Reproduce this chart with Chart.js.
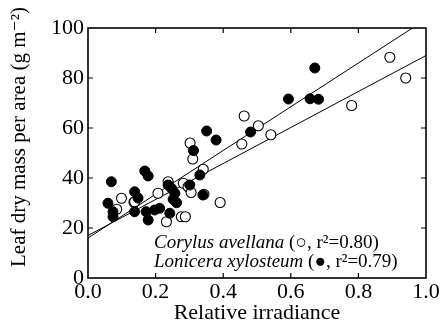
<!DOCTYPE html>
<html>
<head>
<meta charset="utf-8">
<script src="https://cdn.jsdelivr.net/npm/chart.js@4.4.0/dist/chart.umd.min.js"></script>
<style>
    html, body { margin: 0; padding: 0; background: #fff; }
</style>
</head>
<body>
<canvas id="leafChart" width="441" height="334"></canvas>
<script>
/* =========================
   DATA
========================= */

const xTicks = [0, 0.2, 0.4, 0.6, 0.8, 1.0];
const yTicks = [0, 20, 40, 60, 80, 100];

// Corylus avellana (open circles)
const corylusX = [0.085, 0.099, 0.136, 0.138, 0.207, 0.237, 0.232, 0.276, 0.288, 0.282,
                  0.296, 0.305, 0.302, 0.310, 0.341, 0.343, 0.391, 0.455, 0.462, 0.504,
                  0.541, 0.780, 0.893, 0.940];
const corylusY = [27.5, 31.9, 30.3, 30.5, 33.9, 38.5, 22.5, 24.5, 24.5, 37.9,
                  36.5, 34.2, 54.0, 47.6, 43.5, 33.5, 30.2, 53.6, 64.8, 60.9,
                  57.3, 69.0, 88.3, 80.0];

// Lonicera xylosteum (filled circles)
const loniceraX = [0.059, 0.069, 0.074, 0.074, 0.138, 0.148, 0.138, 0.168, 0.178, 0.172,
                   0.178, 0.197, 0.212, 0.237, 0.247, 0.257, 0.252, 0.262, 0.242, 0.301,
                   0.312, 0.331, 0.340, 0.351, 0.379, 0.481, 0.593, 0.657, 0.682, 0.671];
const loniceraY = [29.9, 38.5, 26.5, 24.5, 34.5, 32.0, 26.5, 42.8, 40.8, 26.5,
                   23.2, 27.2, 27.9, 37.2, 35.9, 33.9, 31.5, 30.1, 25.9, 37.2,
                   51.0, 41.2, 33.2, 58.8, 55.2, 58.4, 71.6, 71.7, 71.5, 84.0];

// linear fits: [intercept, slope]
const corylusFit = [17, 72];
const loniceraFit = [16, 87.5];

const corylusLabel = ['Corylus avellana', ' (\u25CB, r\u00B2=0.80)'];
const loniceraLabel = ['Lonicera xylosteum', ' (\u25CF, r\u00B2=0.79)'];
const yTitle = 'Leaf dry mass per area (g m\u207B\u00B2)';

/* =========================
   HELPERS
========================= */

const SERIF = '"Liberation Serif", "DejaVu Serif", serif';

function toPoints(xs, ys){
    return xs.map(function(x, i){ return { x: x, y: ys[i] }; });
}

function fitLine(fit){
    const b = fit[0], m = fit[1];
    const xEnd = Math.min(1, (100 - b) / m);
    return [{ x: 0, y: b }, { x: xEnd, y: b + m * xEnd }];
}

/* =========================
   FRAME + INWARD TICKS + KEY
========================= */

const framePlugin = {
    id: 'framePlugin',
    afterDraw(chart){
        const ctx = chart.ctx;
        const a = chart.chartArea;
        const xs = chart.scales.x;
        const ys = chart.scales.y;
        const tl = 5;

        ctx.save();
        ctx.strokeStyle = '#000';
        ctx.lineWidth = 1.6;
        ctx.strokeRect(a.left, a.top, a.right - a.left, a.bottom - a.top);

        ctx.lineWidth = 1.2;
        ctx.beginPath();
        xTicks.slice(1, -1).forEach(function(v){
            const px = xs.getPixelForValue(v);
            ctx.moveTo(px, a.bottom); ctx.lineTo(px, a.bottom - tl);
            ctx.moveTo(px, a.top);    ctx.lineTo(px, a.top + tl);
        });
        yTicks.slice(1, -1).forEach(function(v){
            const py = ys.getPixelForValue(v);
            ctx.moveTo(a.left, py);  ctx.lineTo(a.left + tl, py);
            ctx.moveTo(a.right, py); ctx.lineTo(a.right - tl, py);
        });
        ctx.stroke();

        ctx.fillStyle = '#000';

        // y axis title, sits a bit above the plot centre
        ctx.save();
        ctx.translate(19, 137);
        ctx.rotate(-Math.PI / 2);
        ctx.font = '21px ' + SERIF;
        ctx.textAlign = 'center';
        ctx.textBaseline = 'middle';
        ctx.fillText(yTitle, 0, 0);
        ctx.restore();

        // species key
        ctx.textBaseline = 'alphabetic';
        [[corylusLabel, 248], [loniceraLabel, 267]].forEach(function(row){
            let x = 154;
            ctx.font = 'italic 19px ' + SERIF;
            ctx.fillText(row[0][0], x, row[1]);
            x += ctx.measureText(row[0][0]).width;
            ctx.font = '19px ' + SERIF;
            ctx.fillText(row[0][1], x, row[1]);
        });
        ctx.restore();
    }
};

/* =========================
   CHART
========================= */

new Chart(document.getElementById('leafChart'), {
    type: 'scatter',

    data: {
        datasets: [
            {
                label: 'Corylus fit',
                type: 'line',
                data: fitLine(corylusFit),
                borderColor: '#000',
                borderWidth: 1,
                pointRadius: 0,
                fill: false,
                order: 4
            },
            {
                label: 'Lonicera fit',
                type: 'line',
                data: fitLine(loniceraFit),
                borderColor: '#000',
                borderWidth: 1,
                pointRadius: 0,
                fill: false,
                order: 3
            },
            {
                label: 'Corylus avellana',
                data: toPoints(corylusX, corylusY),
                pointRadius: 5,
                pointBackgroundColor: '#fff',
                pointBorderColor: '#000',
                pointBorderWidth: 1.1,
                order: 2
            },
            {
                label: 'Lonicera xylosteum',
                data: toPoints(loniceraX, loniceraY),
                pointRadius: 5,
                pointBackgroundColor: '#000',
                pointBorderColor: '#000',
                pointBorderWidth: 1,
                order: 1
            }
        ]
    },

    options: {
        responsive: false,
        animation: false,
        devicePixelRatio: 1,

        layout: {
            padding: { top: 28, right: 15, left: 0, bottom: 0 }
        },

        plugins: {
            legend: { display: false },
            tooltip: { enabled: false }
        },

        scales: {
            x: {
                type: 'linear',
                min: 0,
                max: 1,
                afterBuildTicks: function(scale){
                    scale.ticks = xTicks.map(function(v){ return { value: v }; });
                },
                afterFit: function(scale){ scale.height = 56; },
                grid: { display: false, drawTicks: false },
                border: { display: false },
                ticks: {
                    color: '#000',
                    padding: 1,
                    maxRotation: 0,
                    font: { family: SERIF, size: 22 },
                    callback: function(v){ return Number(v).toFixed(1); }
                },
                title: {
                    display: true,
                    text: 'Relative irradiance',
                    color: '#000',
                    font: { family: SERIF, size: 22 },
                    padding: { top: 0, bottom: 8 }
                }
            },

            y: {
                type: 'linear',
                min: 0,
                max: 100,
                afterBuildTicks: function(scale){
                    scale.ticks = yTicks.map(function(v){ return { value: v }; });
                },
                afterFit: function(scale){ scale.width = 88; },
                grid: { display: false, drawTicks: false },
                border: { display: false },
                ticks: {
                    color: '#000',
                    padding: 4,
                    font: { family: SERIF, size: 22 }
                }
            }
        }
    },

    plugins: [framePlugin]
});
</script>
</body>
</html>
